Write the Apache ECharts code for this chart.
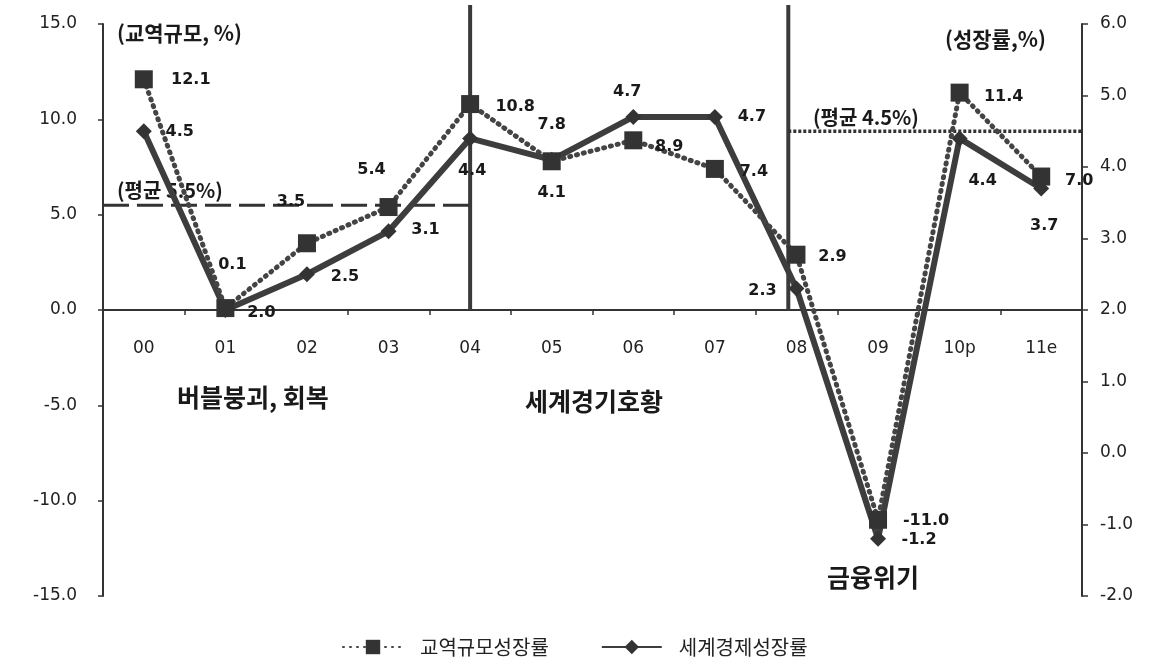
<!DOCTYPE html>
<html>
<head>
<meta charset="utf-8">
<script src="https://cdn.jsdelivr.net/npm/echarts@6/dist/echarts.min.js"></script>
<style>
  html, body { margin: 0; padding: 0; background: #fff; }
  #chart { width: 1153px; height: 663px; }
</style>
</head>
<body>
<div id="chart"></div>
<script>
// Years on the category axis
const years = ['00', '01', '02', '03', '04', '05', '06', '07', '08', '09', '10p', '11e'];
// Trade volume growth (%), left axis
const tradeGrowth = [12.1, 0.1, 3.5, 5.4, 10.8, 7.8, 8.9, 7.4, 2.9, -11.0, 11.4, 7.0];
// World economic growth (%), right axis
const worldGrowth = [4.5, 2.0, 2.5, 3.1, 4.4, 4.1, 4.7, 4.7, 2.3, -1.2, 4.4, 3.7];
// Period averages
const tradeAvg = 5.5;
const worldAvg = 4.5;
// Period dividers, in category units
const periodBreaks = [4, 7.9];
// Axis ranges
const leftAxisRange = { min: -15, max: 15, interval: 5 };
const rightAxisRange = { min: -2, max: 6, interval: 1 };

// Value label placement (pixel offsets from each marker)
const tradeLabelOffset = [[47, 1], [7, -43], [-16, -41], [-17, -37], [45, 3], [0, -36], [36, 7], [39, 3], [36, 2], [48, 1], [44, 4], [38, 4]];
const worldLabelOffset = [[36, 1], [36, 3], [38, 3], [37, -2], [2, 32], [0, 33], [-6, -25], [37, 0], [-34, 2], [41, 1], [23, 42], [3, 37]];

const INK = '#1a1a1a';
const NUM_FONT = 'DejaVu Sans';
const KR_FONT = 'Noto Sans CJK KR';
const fmt1 = v => Number(v).toFixed(1);

const W = 1153, H = 663;
const grid = { left: 103, right: 71, top: 24, bottom: 67 };
const plotH = H - grid.top - grid.bottom;
// category axis sits on the left axis' zero line
const zeroLift = plotH * (0 - leftAxisRange.min) / (leftAxisRange.max - leftAxisRange.min);

function labelled(values, offsets) {
  return values.map((v, i) => ({
    value: v,
    label: { offset: offsets[i] }
  }));
}

const valueLabel = {
  show: true,
  position: 'inside',
  formatter: p => fmt1(p.value),
  color: INK,
  fontFamily: NUM_FONT,
  fontWeight: 'bold',
  fontSize: 16
};

const lastIdx = years.length - 1;

const chart = echarts.init(document.getElementById('chart'), null, { renderer: 'canvas' });

chart.setOption({
  backgroundColor: '#fff',
  animation: false,
  grid: Object.assign({ containLabel: false }, grid),
  legend: {
    left: 337,
    top: 632,
    itemWidth: 60,
    itemHeight: 18,
    itemGap: 52,
    textStyle: { fontFamily: KR_FONT, fontSize: 20, color: '#222', padding: [0, 0, 0, 12] },
    data: ['교역규모성장률', '세계경제성장률']
  },
  xAxis: [
    {
      type: 'category',
      data: years,
      boundaryGap: true,
      position: 'bottom',
      offset: -zeroLift,
      axisLine: { onZero: false, lineStyle: { color: '#333', width: 2 } },
      axisTick: { show: true, length: 5, inside: false, lineStyle: { color: '#333', width: 1.5 } },
      axisLabel: { margin: 30, color: '#222', fontFamily: NUM_FONT, fontSize: 17 },
      splitLine: { show: false }
    },
    {
      // helper axis for reference lines spanning category edges
      type: 'value',
      min: -0.5,
      max: lastIdx + 0.5,
      show: false
    }
  ],
  yAxis: [
    {
      type: 'value',
      position: 'left',
      min: leftAxisRange.min,
      max: leftAxisRange.max,
      interval: leftAxisRange.interval,
      axisLine: { show: true, onZero: false, lineStyle: { color: '#333', width: 2 } },
      axisTick: { show: true, length: 5, lineStyle: { color: '#333', width: 1.5 } },
      axisLabel: { margin: 26, color: '#222', fontFamily: NUM_FONT, fontSize: 17, formatter: fmt1 },
      splitLine: { show: false }
    },
    {
      type: 'value',
      position: 'right',
      min: rightAxisRange.min,
      max: rightAxisRange.max,
      interval: rightAxisRange.interval,
      axisLine: { show: true, onZero: false, lineStyle: { color: '#333', width: 2 } },
      axisTick: { show: true, length: 6, lineStyle: { color: '#333', width: 1.5 } },
      axisLabel: { margin: 18, color: '#222', fontFamily: NUM_FONT, fontSize: 17, formatter: fmt1 },
      splitLine: { show: false }
    }
  ],
  series: [
    // Period dividers
    {
      name: 'div1', type: 'line', xAxisIndex: 1, yAxisIndex: 0, clip: false, silent: true,
      symbol: 'none', lineStyle: { color: '#3a3a3a', width: 4 },
      data: [[periodBreaks[0], 0], [periodBreaks[0], 16]]
    },
    {
      name: 'div2', type: 'line', xAxisIndex: 1, yAxisIndex: 0, clip: false, silent: true,
      symbol: 'none', lineStyle: { color: '#3a3a3a', width: 4 },
      data: [[periodBreaks[1], 0], [periodBreaks[1], 16]]
    },
    // Trade average over the first period
    {
      name: 'avgTrade', type: 'line', xAxisIndex: 1, yAxisIndex: 0, silent: true,
      symbol: 'none', lineStyle: { color: '#333', width: 3, type: [26, 8] },
      data: [[-0.5, tradeAvg], [periodBreaks[0], tradeAvg]]
    },
    // Growth average over the last period
    {
      name: 'avgWorld', type: 'line', xAxisIndex: 1, yAxisIndex: 1, silent: true,
      symbol: 'none', lineStyle: { color: '#333', width: 3.5, type: [3, 2] },
      data: [[periodBreaks[1], worldAvg], [lastIdx + 0.5, worldAvg]]
    },
    {
      name: '세계경제성장률',
      type: 'line',
      xAxisIndex: 0,
      yAxisIndex: 1,
      symbol: 'diamond',
      symbolSize: [16, 16],
      itemStyle: { color: '#333' },
      lineStyle: { color: '#3d3d3d', width: 6 },
      label: valueLabel,
      data: labelled(worldGrowth, worldLabelOffset),
      z: 3
    },
    {
      name: '교역규모성장률',
      type: 'line',
      xAxisIndex: 0,
      yAxisIndex: 0,
      symbol: 'rect',
      symbolSize: 18,
      itemStyle: { color: '#333' },
      lineStyle: { color: '#444', width: 5, type: [1, 6], cap: 'round' },
      label: valueLabel,
      data: labelled(tradeGrowth, tradeLabelOffset),
      z: 4
    }
  ],
  graphic: [
    { type: 'text', x: 117, y: 33, style: { text: '(교역규모, %)', fill: INK, font: 'bold 21px "Noto Sans CJK KR"', verticalAlign: 'middle' } },
    { type: 'text', x: 945, y: 39, style: { text: '(성장률,%)', fill: INK, font: 'bold 21px "Noto Sans CJK KR"', verticalAlign: 'middle' } },
    { type: 'text', x: 117, y: 190, style: { text: '(평균 5.5%)', fill: INK, font: 'bold 20px "Noto Sans CJK KR"', verticalAlign: 'middle' } },
    { type: 'text', x: 813, y: 117, style: { text: '(평균 4.5%)', fill: INK, font: 'bold 20px "Noto Sans CJK KR"', verticalAlign: 'middle' } },
    { type: 'text', x: 177, y: 397, style: { text: '버블붕괴, 회복', fill: INK, font: 'bold 25px "Noto Sans CJK KR"', verticalAlign: 'middle' } },
    { type: 'text', x: 525, y: 401, style: { text: '세계경기호황', fill: INK, font: 'bold 25px "Noto Sans CJK KR"', verticalAlign: 'middle' } },
    { type: 'text', x: 827, y: 577, style: { text: '금융위기', fill: INK, font: 'bold 25px "Noto Sans CJK KR"', verticalAlign: 'middle' } }
  ]
});
</script>
</body>
</html>
